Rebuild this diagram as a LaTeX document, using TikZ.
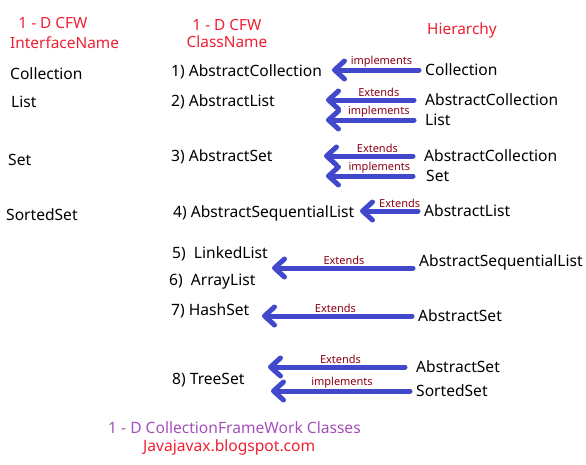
\documentclass[tikz,border=0pt]{standalone}
\usepackage{fontspec}
\setmainfont{Noto Sans}
\usetikzlibrary{positioning,arrows.meta}

\definecolor{headred}{RGB}{240,30,50}
\definecolor{reldark}{RGB}{140,0,20}
\definecolor{arrowblue}{RGB}{66,72,204}
\definecolor{footpurple}{RGB}{165,80,185}

\begin{document}
\begin{tikzpicture}[
  x=1pt, y=-1pt,
  head/.style={font=\fontsize{15.4}{17}\selectfont, text=headred, inner sep=0pt},
  iface/.style={font=\fontsize{15.6}{17}\selectfont, anchor=west, inner sep=0pt},
  cls/.style={font=\fontsize{15.6}{17}\selectfont, anchor=west, inner sep=0pt},
  parent/.style={font=\fontsize{15.6}{17}\selectfont, anchor=west, inner sep=3pt},
  rel/.style={font=\fontsize{11}{13}\selectfont, text=reldark, inner sep=1pt, above=-0.5pt, pos=0.45},
  arrow/.style={-{Straight Barb[length=10pt, width=18pt, round]}, line width=5pt, arrowblue, line cap=round, shorten <=3pt}
]
\useasboundingbox (0,0) rectangle (586,464);

% === Headings ===
\node[head] (hI1) at (53, 23) {1 - D CFW};
\node[head, anchor=west] (hI2) at (10, 43) {InterfaceName};
\node[head] (hC1) at (227, 25) {1 - D CFW};
\node[head] (hC2) at (227, 42) {ClassName};
\node[head, anchor=west] (hH) at (427, 30) {Hierarchy};

% === Interfaces ===
\node[iface] (i1) at (10, 74) {Collection};
\node[iface] (i2) at (11, 102) {List};
\node[iface] (i3) at (8, 160) {Set};
\node[iface] (i4) at (6, 215) {SortedSet};

% === Classes ===
\node[cls] (c1) at (171, 72) {1) AbstractCollection};
\node[cls] (c2) at (171, 102) {2) AbstractList};
\node[cls] (c3) at (171, 157) {3) AbstractSet};
\node[cls] (c4) at (173, 213) {4) AbstractSequentialList};
\node[cls] (c5) at (172, 254) {5)\ \ LinkedList};
\node[cls] (c6) at (169, 282) {6)\ \ ArrayList};
\node[cls] (c7) at (171, 311) {7) HashSet};
\node[cls] (c8) at (172, 380) {8) TreeSet};

% === Hierarchy ===
\node[parent] (p1) at (422, 70) {Collection};
\node[parent] (p2a) at (422, 100) {AbstractCollection};
\node[parent] (p2b) at (422, 120) {List};
\node[parent] (p3a) at (421, 156) {AbstractCollection};
\node[parent] (p3b) at (423, 176) {Set};
\node[parent] (p4) at (421, 211) {AbstractList};
\node[parent] (p5) at (416, 262) {AbstractSequentialList};
\node[parent] (p7) at (415, 316) {AbstractSet};
\node[parent] (p8a) at (413, 367) {AbstractSet};
\node[parent] (p8b) at (413, 391) {SortedSet};

% arrow tips
\coordinate (t1) at (332, 70);
\coordinate (t2a) at (326, 100);
\coordinate (t2b) at (326, 120);
\coordinate (t3a) at (324, 156);
\coordinate (t3b) at (326, 176);
\coordinate (t4) at (360, 211);
\coordinate (t5) at (272, 268);
\coordinate (t7) at (262, 316);
\coordinate (t8a) at (268, 367);
\coordinate (t8b) at (271, 391);

% === Relations ===
\draw[arrow] (p1.west) -- (t1) node[rel] {implements};
\draw[arrow, shorten <=8pt] (p2a.west) -- (t2a) node[rel] {Extends};
\draw[arrow, shorten <=8pt] (p2b.west) -- (t2b) node[rel] {implements};
\draw[arrow, shorten <=8pt] (p3a.west) -- (t3a) node[rel] {Extends};
\draw[arrow, shorten <=10pt] (p3b.west) -- (t3b) node[rel] {implements};
\draw[arrow] (p4.west) -- (t4) node[rel, pos=0.35] {Extends};
\draw[arrow] ([yshift=-6pt]p5.west) -- (t5) node[rel, pos=0.5] {Extends};
\draw[arrow] (p7.west) -- (t7) node[rel, pos=0.52] {Extends};
\draw[arrow, shorten <=8pt] (p8a.west) -- (t8a) node[rel, pos=0.5] {Extends};
\draw[arrow] (p8b.west) -- (t8b) node[rel, pos=0.5] {implements};

% === Footer ===
\node[font=\fontsize{15.6}{17}\selectfont, text=footpurple, anchor=west, inner sep=0pt] (f1) at (108, 428) {1 - D CollectionFrameWork Classes};
\node[font=\fontsize{15.6}{17}\selectfont, text=headred, anchor=west, inner sep=0pt] (f2) at (143, 447) {Javajavax.blogspot.com};

\end{tikzpicture}
\end{document}
